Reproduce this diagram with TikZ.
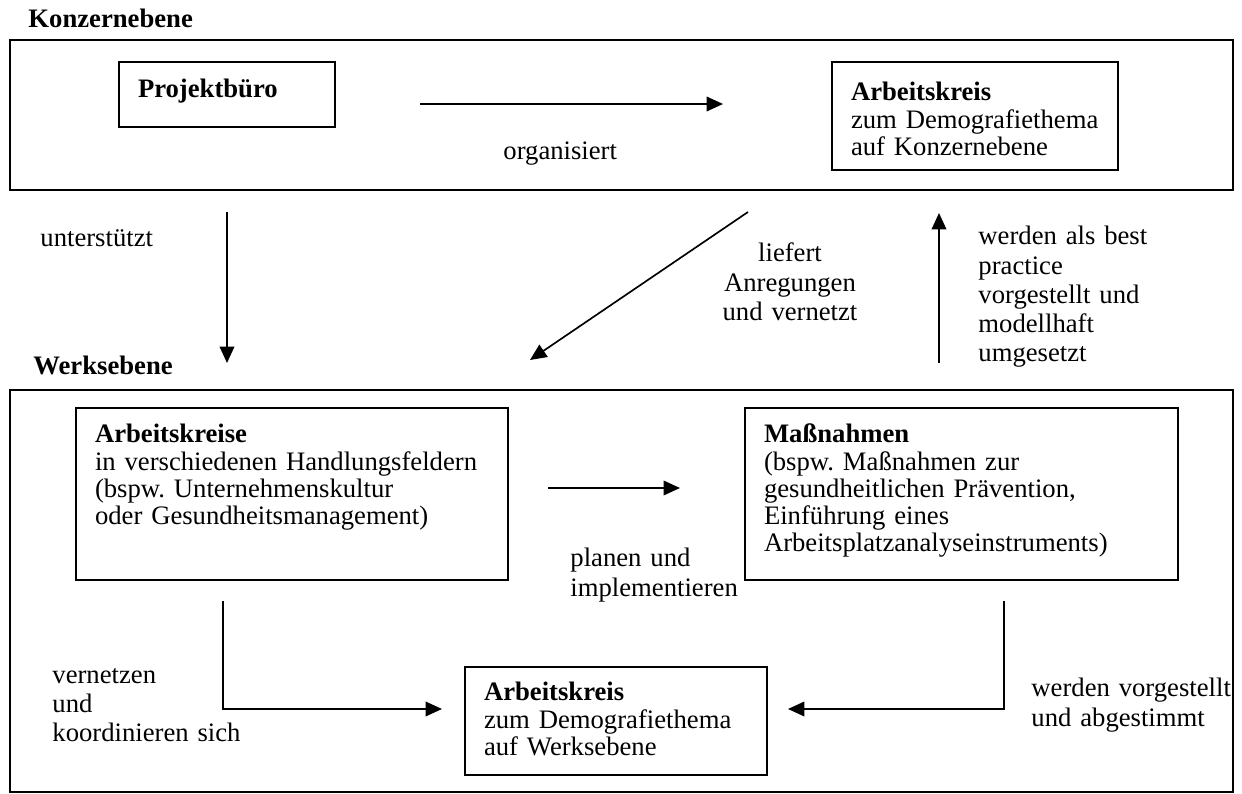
\documentclass[tikz,border=0pt]{standalone}
\usepackage{fontspec}
\setmainfont{Liberation Serif}
\usetikzlibrary{arrows.meta}

\newlength{\pxu}
\setlength{\pxu}{0.45pt}
\frenchspacing

\begin{document}
\begin{tikzpicture}[x=0.45pt, y=-0.45pt,
    block/.style ={rectangle, draw=black, line width=0.9pt, anchor=north west,
      align=left, inner xsep=19\pxu, inner ysep=0pt,
      font=\fontsize{12pt}{12.2pt}\selectfont},
    caption/.style ={anchor=base west, align=left, inner sep=0pt,
      text width=240\pxu, font=\fontsize{12pt}{13.1pt}\selectfont},
    level/.style ={draw=black, line width=1pt},
    line/.style ={draw, line width=0.75pt, -{Triangle[length=7.4pt, width=6.6pt]}}]
    \useasboundingbox (0,0) rectangle (1242,794);
    % level frames
    \node [caption] (konzern) at (28,28) {\textbf{Konzernebene}};
    \path [level] (10,40) rectangle (1233,190);
    \node [caption] (werk) at (33,375) {\textbf{Werksebene}};
    \path [level] (10,390) rectangle (1233,792);
    % Konzernebene - boxes
    \node [block, text width=178\pxu, text height=36\pxu, text depth=29\pxu]
      (projBuero) at (118,61) {\textbf{Projektbüro}};
    \node [block, text width=248\pxu, text height=39\pxu, text depth=69\pxu]
      (akKonzern) at (831,61) {\textbf{Arbeitskreis}\\zum Demografiethema\\auf Konzernebene};
    % Werksebene - boxes
    \node [block, text width=394\pxu, text height=35\pxu, text depth=137\pxu]
      (akFelder) at (75,407) {\textbf{Arbeitskreise}\\in verschiedenen Handlungsfeldern\\(bspw. Unternehmenskultur\\oder Gesundheitsmanagement)};
    \node [block, text width=395\pxu, text height=35\pxu, text depth=137\pxu]
      (massn) at (744,407) {\textbf{Maßnahmen}\\(bspw. Maßnahmen zur\\gesundheitlichen Prävention,\\Einführung eines\\Arbeitsplatzanalyseinstruments)};
    \node [block, text width=264\pxu, text height=34\pxu, text depth=74\pxu]
      (akWerk) at (464,666) {\textbf{Arbeitskreis}\\zum Demografiethema\\auf Werksebene};
    % connector labels
    \node [caption] (orgLbl) at (503,160) {organisiert};
    \node [caption] (untLbl) at (40,247) {unterstützt};
    \node [caption, align=center, text width=140\pxu, anchor=base] (liefLbl) at (790,262)
      {liefert\\Anregungen\\und vernetzt};
    \node [caption] (bestLbl) at (978,245) {werden als best\\practice\\vorgestellt und\\modellhaft\\umgesetzt};
    \node [caption] (planLbl) at (570,567) {planen und\\implementieren};
    \node [caption] (vernLbl) at (52,683) {vernetzen\\und\\koordinieren sich};
    \node [caption] (abstLbl) at (1031,697) {werden vorgestellt\\und abgestimmt};
    % free ends of the connectors
    \coordinate (orgS) at (420,104);   \coordinate (orgE) at (723,104);
    \coordinate (untS) at (227,212);   \coordinate (untE) at (227,363);
    \coordinate (liefS) at (748,212);  \coordinate (liefE) at (530,360);
    \coordinate (bestS) at (939,363);  \coordinate (bestE) at (939,213);
    \coordinate (planS) at (548,488);  \coordinate (planE) at (680,488);
    \coordinate (vernS) at (223,601);  \coordinate (vernE) at (442,709);
    \coordinate (abstS) at (1004,601); \coordinate (abstE) at (788,709);
    % connecting with paths
    \begin{scope}[every path/.style=line]
      \path (orgS) -- (orgE);
      \path (untS) -- (untE);
      \path (liefS) -- (liefE);
      \path (bestS) -- (bestE);
      \path (planS) -- (planE);
      \path (vernS) |- (vernE);
      \path (abstS) |- (abstE);
    \end{scope}
\end{tikzpicture}
\end{document}
